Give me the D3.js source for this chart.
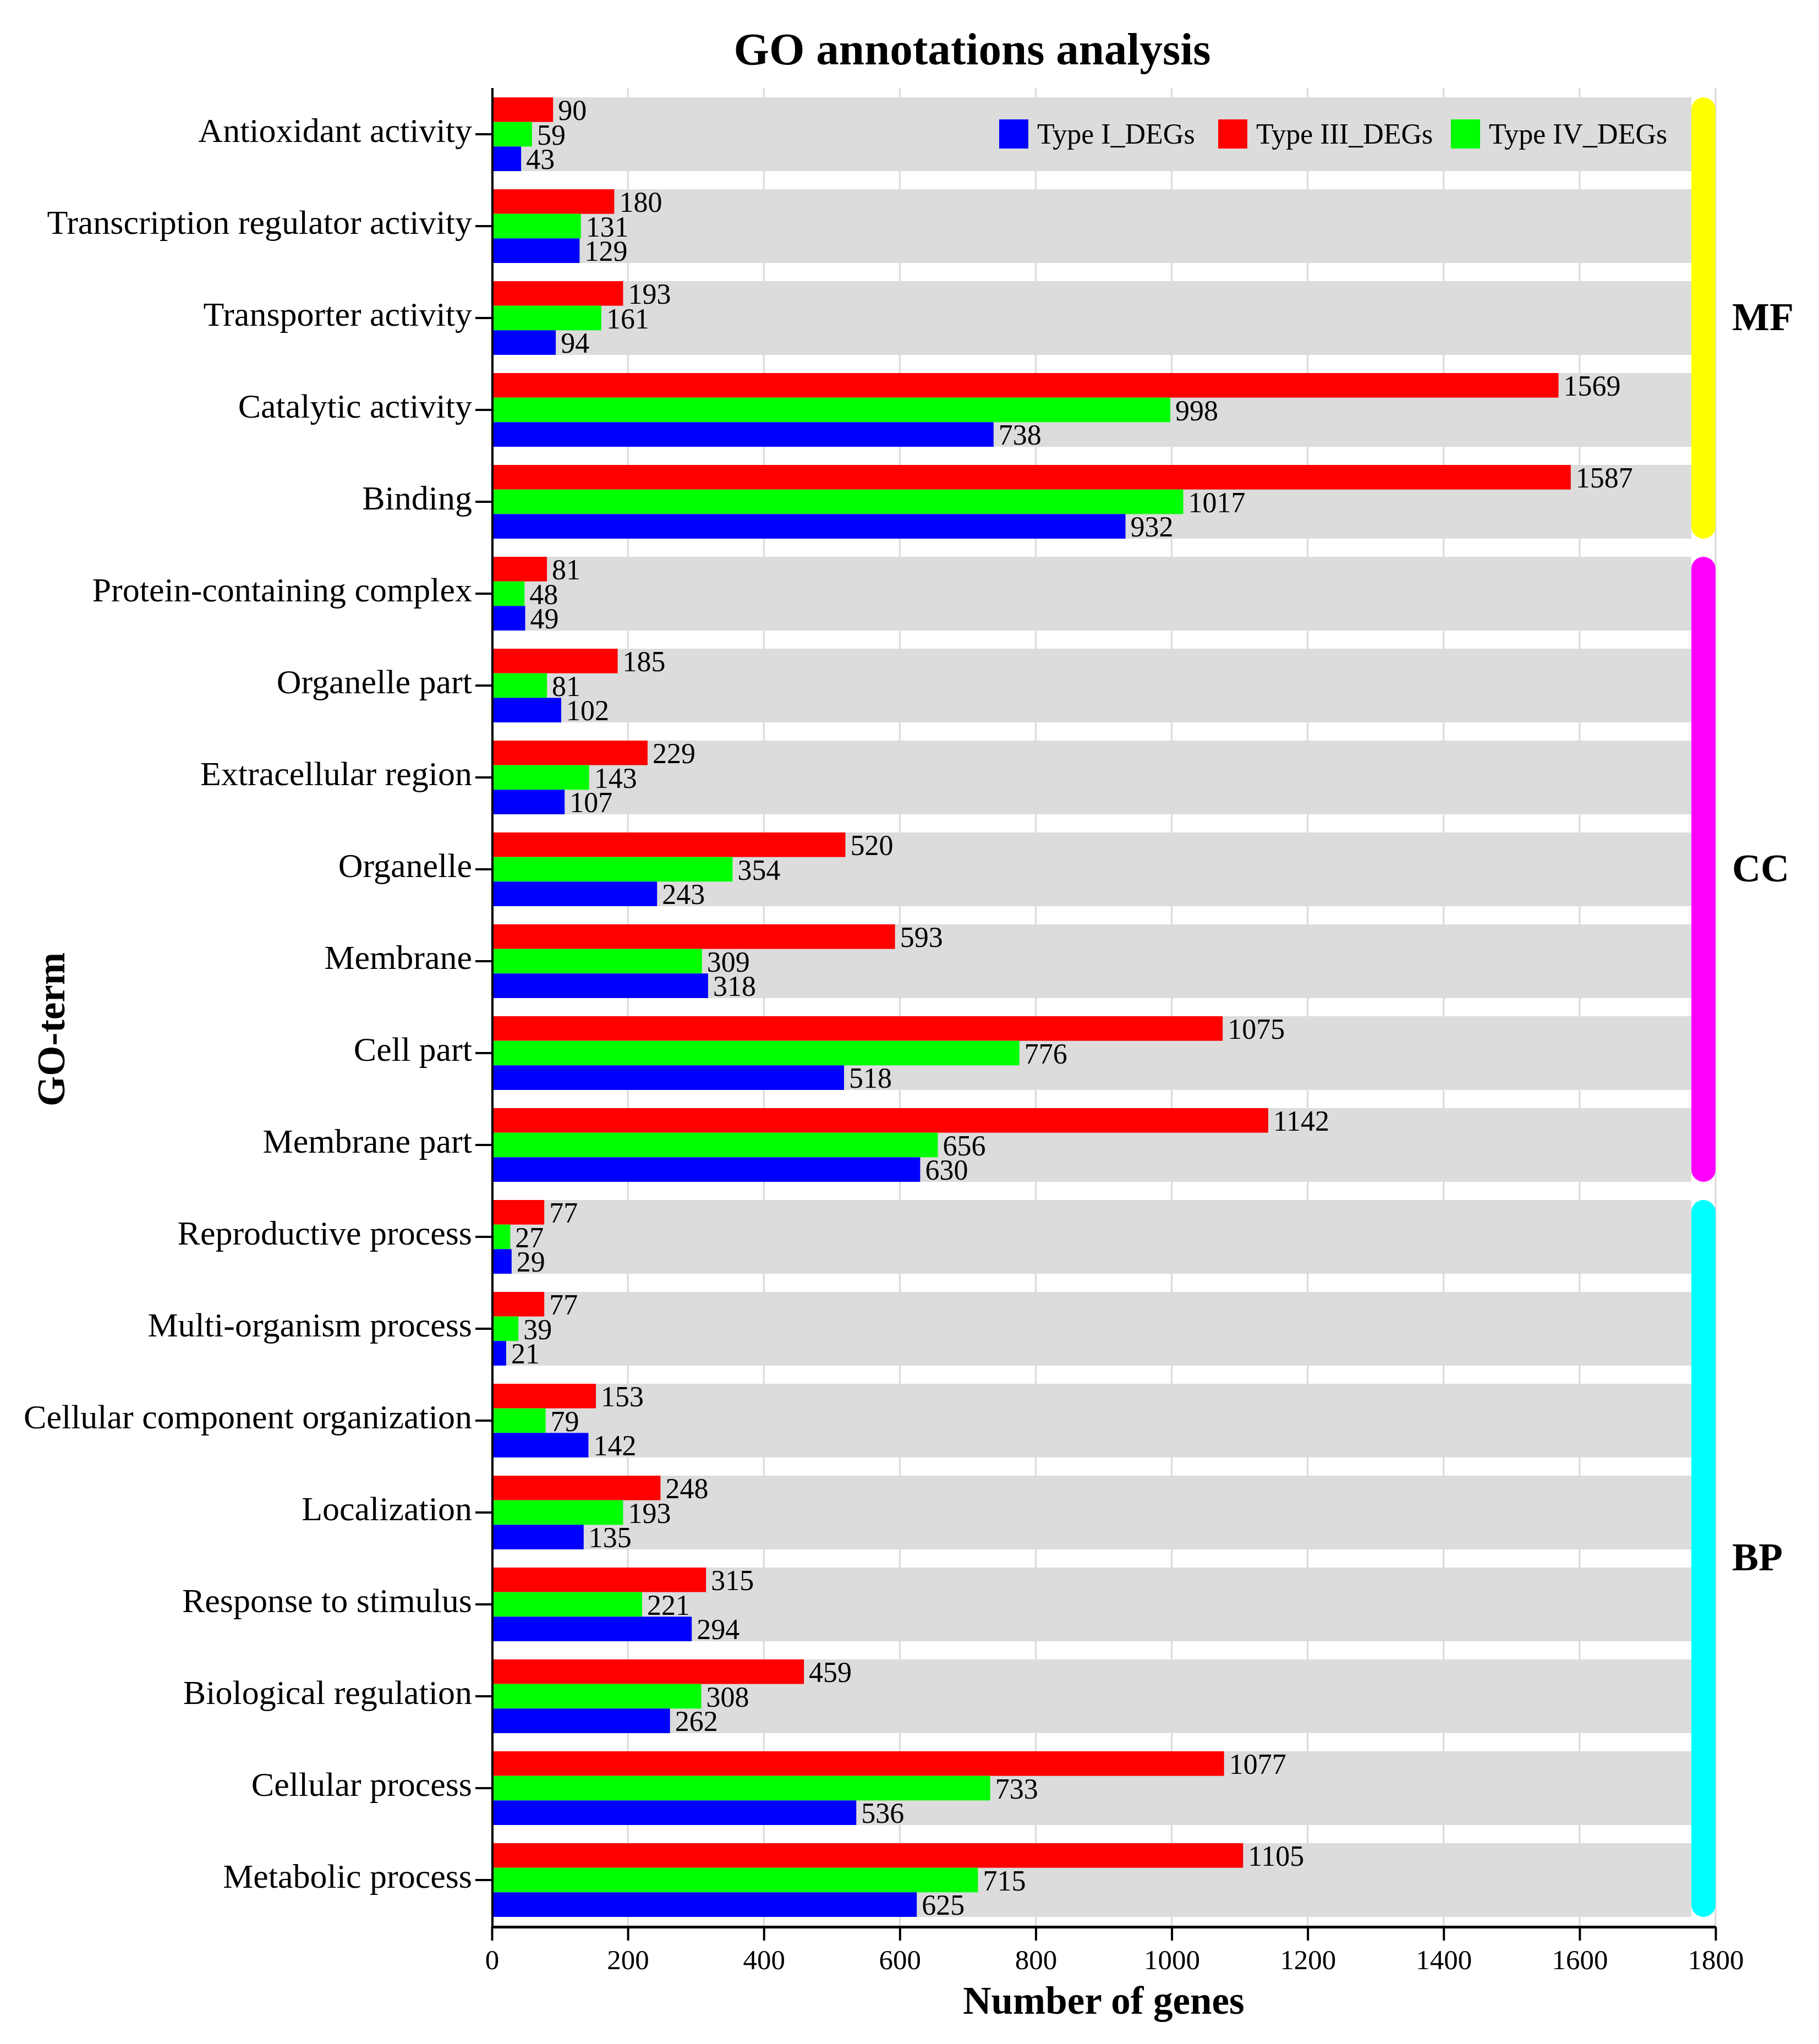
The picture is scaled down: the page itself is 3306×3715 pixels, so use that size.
<!DOCTYPE html>
<html>
<head>
<meta charset="utf-8">
<script src="https://d3js.org/d3.v7.min.js"></script>
<style>
  body { margin: 0; background: #fff; }
  text { font-family: "Liberation Serif", "Times New Roman", serif; }
</style>
</head>
<body>
<div id="chart"></div>
<script>
// GO terms, top to bottom
var terms = [
  "Antioxidant activity", "Transcription regulator activity", "Transporter activity",
  "Catalytic activity", "Binding",
  "Protein-containing complex", "Organelle part", "Extracellular region", "Organelle",
  "Membrane", "Cell part", "Membrane part",
  "Reproductive process", "Multi-organism process", "Cellular component organization",
  "Localization", "Response to stimulus", "Biological regulation", "Cellular process",
  "Metabolic process"
];
var typeIII = [90, 180, 193, 1569, 1587, 81, 185, 229, 520, 593, 1075, 1142,
               77, 77, 153, 248, 315, 459, 1077, 1105];
var typeIV  = [59, 131, 161, 998, 1017, 48, 81, 143, 354, 309, 776, 656,
               27, 39, 79, 193, 221, 308, 733, 715];
var typeI   = [43, 129, 94, 738, 932, 49, 102, 107, 243, 318, 518, 630,
               29, 21, 142, 135, 294, 262, 536, 625];

// ontology groups: name, first term, last term
var groups = [
  { name: "MF", from: 0,  to: 4,  color: "#ffff00" },
  { name: "CC", from: 5,  to: 11, color: "#ff00ff" },
  { name: "BP", from: 12, to: 19, color: "#00ffff" }
];

var seriesKeys = ["III", "IV", "I"];
var seriesColor = { "I": "#0000ff", "III": "#ff0000", "IV": "#00ff00" };
var legendItems = [
  { key: "I",   label: "Type I_DEGs" },
  { key: "III", label: "Type III_DEGs" },
  { key: "IV",  label: "Type IV_DEGs" }
];
var xTicks = [0, 200, 400, 600, 800, 1000, 1200, 1400, 1600, 1800];

var W = 3306, H = 3715;
var plotL = 894, plotR = 3118, plotT = 177, plotB = 3484, axisY = 3502;

var rows = terms.map(function (t, i) {
  return { term: t, III: typeIII[i], IV: typeIV[i], I: typeI[i] };
});

var svg = d3.select("#chart").append("svg")
  .attr("width", W).attr("height", H)
  .style("background", "#fff");

var x = d3.scaleLinear().domain([0, 1800]).range([plotL, plotR]);
var y = d3.scaleBand().domain(terms).range([plotT, plotB])
  .paddingInner(33 / 167).paddingOuter(0);
var sub = d3.scaleBand().domain(seriesKeys).range([0, y.bandwidth()]);

// grid lines
svg.append("g").selectAll("line")
  .data(xTicks).enter().append("line")
  .attr("x1", function (d) { return x(d); })
  .attr("x2", function (d) { return x(d); })
  .attr("y1", 160).attr("y2", axisY)
  .attr("stroke", "#d9d9d9").attr("stroke-width", 3);

// grey band behind each term
var sideW = 44;
svg.append("g").selectAll("rect")
  .data(terms).enter().append("rect")
  .attr("x", plotL)
  .attr("y", function (d) { return y(d); })
  .attr("width", plotR - sideW - plotL)
  .attr("height", y.bandwidth())
  .attr("fill", "#dcdcdc");

// legend
var legend = svg.append("g");
var legX = [1816, 2214, 2637];
legendItems.forEach(function (it, i) {
  legend.append("rect")
    .attr("x", legX[i]).attr("y", 217)
    .attr("width", 53).attr("height", 53)
    .attr("fill", seriesColor[it.key]);
  legend.append("text")
    .attr("x", legX[i] + 69).attr("y", 261)
    .attr("font-size", 52)
    .text(it.label);
});

// bars
var rowG = svg.append("g").selectAll("g")
  .data(rows).enter().append("g")
  .attr("transform", function (d) { return "translate(0," + y(d.term) + ")"; });

rowG.selectAll("rect")
  .data(function (d) { return seriesKeys.map(function (k) { return { key: k, value: d[k] }; }); })
  .enter().append("rect")
  .attr("x", x(0))
  .attr("y", function (d) { return sub(d.key); })
  .attr("width", function (d) { return x(d.value) - x(0); })
  .attr("height", sub.bandwidth())
  .attr("fill", function (d) { return seriesColor[d.key]; });

rowG.selectAll("text")
  .data(function (d) { return seriesKeys.map(function (k) { return { key: k, value: d[k] }; }); })
  .enter().append("text")
  .attr("x", function (d) { return x(d.value) + 9; })
  .attr("y", function (d) { return sub(d.key) + sub.bandwidth() / 2; })
  .attr("dy", "0.36em")
  .attr("font-size", 52)
  .attr("fill", "#000")
  .text(function (d) { return d.value; });

// side group bars
groups.forEach(function (g) {
  var y0 = y(terms[g.from]), y1 = y(terms[g.to]) + y.bandwidth();
  svg.append("rect")
    .attr("x", plotR - sideW).attr("y", y0)
    .attr("width", sideW).attr("height", y1 - y0)
    .attr("rx", sideW / 2).attr("ry", sideW / 2)
    .attr("fill", g.color);
  svg.append("text")
    .attr("x", 3148).attr("y", (y0 + y1) / 2)
    .attr("dy", "0.3em")
    .attr("font-size", 72).attr("font-weight", "bold")
    .text(g.name);
});

// y axis
var yAxis = svg.append("g")
  .attr("transform", "translate(" + plotL + ",0)")
  .call(d3.axisLeft(y).tickSize(30).tickPadding(6));
yAxis.select(".domain").remove();
yAxis.selectAll(".tick line").attr("stroke", "#000").attr("stroke-width", 4);
yAxis.selectAll(".tick text")
  .attr("font-size", 62)
  .attr("dy", "0.22em")
  .attr("font-family", "Liberation Serif, Times New Roman, serif")
  .attr("fill", "#000");
svg.append("line")
  .attr("x1", plotL + 1).attr("x2", plotL + 1)
  .attr("y1", 160).attr("y2", axisY + 2)
  .attr("stroke", "#000").attr("stroke-width", 4);

// x axis
var xAxis = svg.append("g")
  .attr("transform", "translate(0," + axisY + ")")
  .call(d3.axisBottom(x).tickValues(xTicks).tickFormat(d3.format("d"))
    .tickSize(25).tickPadding(16).tickSizeOuter(0));
xAxis.select(".domain").attr("stroke", "#000").attr("stroke-width", 5);
xAxis.selectAll(".tick line").attr("stroke", "#000").attr("stroke-width", 4);
xAxis.selectAll(".tick text")
  .attr("font-size", 51)
  .attr("font-family", "Liberation Serif, Times New Roman, serif")
  .attr("fill", "#000");

// titles
svg.append("text")
  .attr("x", 1767).attr("y", 117)
  .attr("text-anchor", "middle")
  .attr("font-size", 83).attr("font-weight", "bold")
  .text("GO annotations analysis");

svg.append("text")
  .attr("x", (plotL + plotR) / 2).attr("y", 3660)
  .attr("text-anchor", "middle")
  .attr("font-size", 71).attr("font-weight", "bold")
  .text("Number of genes");

svg.append("text")
  .attr("transform", "translate(117,1871) rotate(-90)")
  .attr("text-anchor", "middle")
  .attr("font-size", 71).attr("font-weight", "bold")
  .text("GO-term");
</script>
</body>
</html>
